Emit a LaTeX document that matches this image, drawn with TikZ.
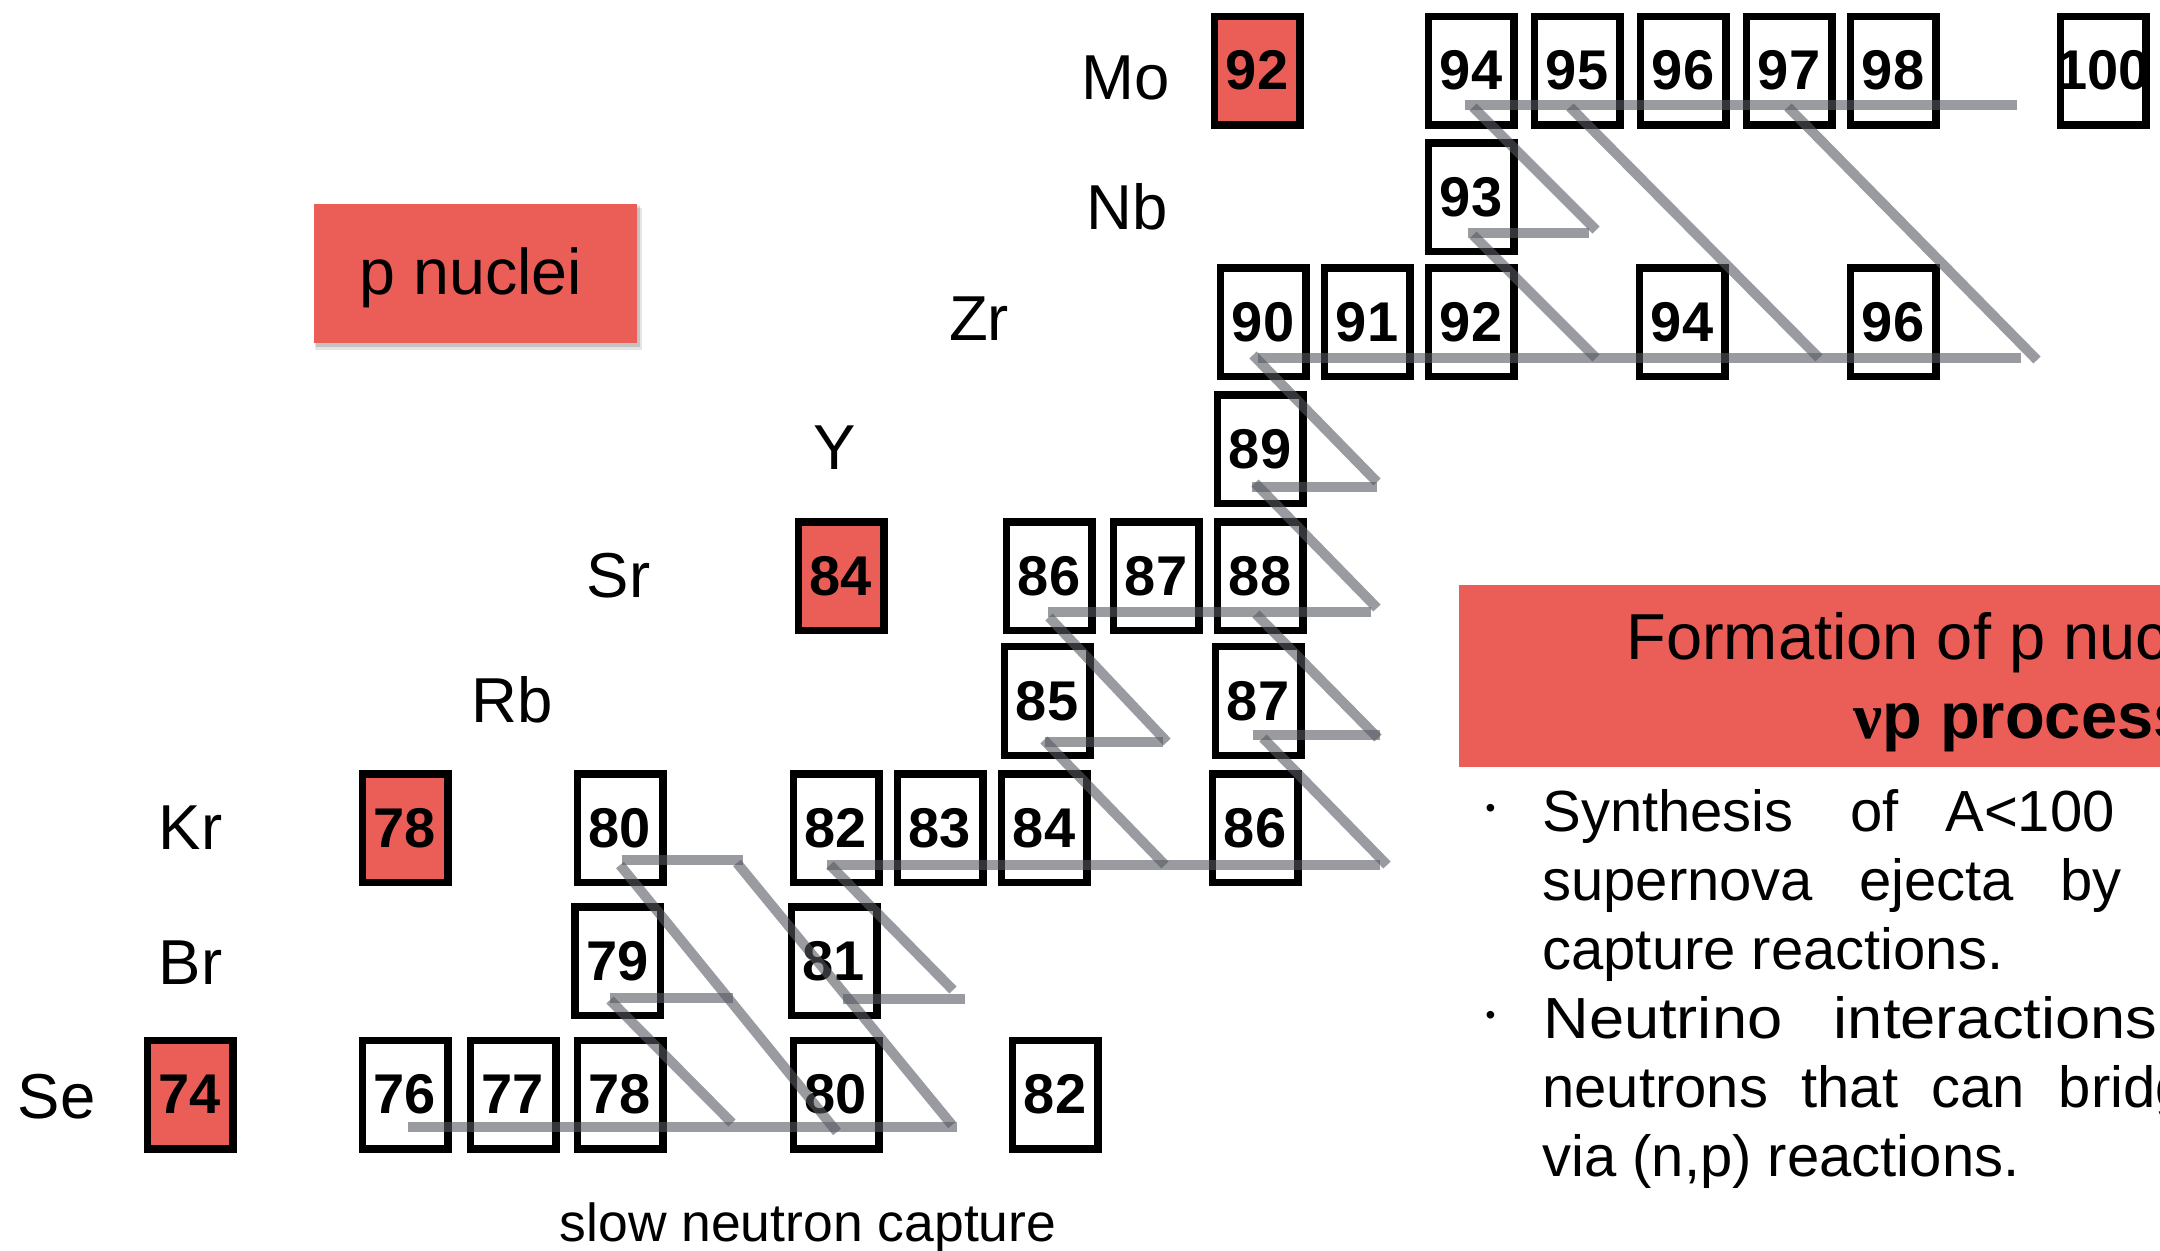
\documentclass[tikz,border=0pt]{standalone}
\usepackage{fontspec}
\usepackage{graphicx}
\setmainfont{Liberation Sans}
\newfontfamily\nufont{Liberation Serif}
\definecolor{pred}{RGB}{235,94,88}
\definecolor{sgray}{RGB}{85,89,96}
\newcommand\numfont{\fontsize{28pt}{30pt}\selectfont\bfseries}
\newcommand\elemfont{\fontsize{31.75pt}{36pt}\selectfont}
\newcommand\titlefont{\fontsize{32.5pt}{36pt}\selectfont}
\newcommand\bodyfont{\fontsize{29pt}{34pt}\selectfont}
\tikzset{
  nuc/.style={draw=black, line width=3.75pt, fill=white, minimum width=42.75pt,
    minimum height=54.25pt, inner sep=0pt, font=\numfont},
  pnuc/.style={nuc, fill=pred},
  elem/.style={anchor=base, inner sep=0pt, font=\elemfont},
  sline/.style={draw=sgray, opacity=0.6, line width=5pt},
  btxt/.style={anchor=base west, inner sep=0pt, font=\bodyfont},
  bdot/.style={inner sep=0pt, font=\fontsize{14pt}{14pt}\selectfont},
}
\newcommand\nucbox[5][nuc]{\node[#1] (#2) at (#3,#4) {\makebox[0pt]{#5}};}
\begin{document}
\begin{tikzpicture}[x=0.5pt,y=-0.5pt]
\useasboundingbox (0,0) rectangle (2160,1251);
\clip (0,0) rectangle (2160,1251);

% p nuclei legend
\fill[black, opacity=0.10] (315,208) rectangle (642,350);
\fill[black, opacity=0.15] (316,206) rectangle (640,347);
\node[fill=pred, minimum width=161.5pt, minimum height=69.5pt, inner sep=0pt] (pn) at (475.5,273.5) {};
\node[anchor=base, inner sep=0pt, font=\fontsize{32.3pt}{36pt}\selectfont] (pntext) at (471,295) {p nuclei};

% element labels
\node[elem] (lMo) at (1126,100) {Mo};
\node[elem] (lNb) at (1127,230) {Nb};
\node[elem] (lZr) at (979,341) {Zr};
\node[elem] (lY) at (835,470) {Y};
\node[elem] (lSr) at (618.5,598) {Sr};
\node[elem] (lRb) at (512,723) {Rb};
\node[elem] (lKr) at (190.7,849) {Kr};
\node[elem] (lBr) at (190.7,984) {Br};
\node[elem] (lSe) at (56.8,1118) {Se};

% Mo
\nucbox[pnuc]{Mo92}{1257}{70.7}{92}
\nucbox{Mo94}{1471}{70.7}{94}
\nucbox{Mo95}{1577}{70.7}{95}
\nucbox{Mo96}{1683}{70.7}{96}
\nucbox{Mo97}{1789}{70.7}{97}
\nucbox{Mo98}{1893}{70.7}{98}
\nucbox{Mo100}{2103}{70.7}{100}
% Nb
\nucbox{Nb93}{1471}{197.3}{93}
% Zr
\nucbox{Zr90}{1263}{322.5}{90}
\nucbox{Zr91}{1367}{322.5}{91}
\nucbox{Zr92}{1471}{322.5}{92}
\nucbox{Zr94}{1682}{322.5}{94}
\nucbox{Zr96}{1893}{322.5}{96}
% Y
\nucbox{Y89}{1260}{449.5}{89}
% Sr
\nucbox[pnuc]{Sr84}{841}{576.3}{84}
\nucbox{Sr86}{1049}{576.3}{86}
\nucbox{Sr87}{1156}{576.3}{87}
\nucbox{Sr88}{1260}{576.3}{88}
% Rb
\nucbox{Rb85}{1047}{701}{85}
\nucbox{Rb87}{1258}{701}{87}
% Kr
\nucbox[pnuc]{Kr78}{405}{828}{78}
\nucbox{Kr80}{620}{828}{80}
\nucbox{Kr82}{836}{828}{82}
\nucbox{Kr83}{940}{828}{83}
\nucbox{Kr84}{1044}{828}{84}
\nucbox{Kr86}{1255}{828}{86}
% Br
\nucbox{Br79}{617.5}{961.3}{79}
\nucbox{Br81}{834}{961.3}{81}
% Se
\nucbox[pnuc]{Se74}{190}{1094.7}{74}
\nucbox{Se76}{405}{1094.7}{76}
\nucbox{Se77}{513}{1094.7}{77}
\nucbox{Se78}{620}{1094.7}{78}
\nucbox{Se80}{836}{1094.7}{80}
\nucbox{Se82}{1055}{1094.7}{82}

% s-process path
\draw[sline] (1465,105) -- (2017,105);
\draw[sline] (1473,107) -- (1596,230);
\draw[sline] (1468,233) -- (1589,233);
\draw[sline] (1473,235) -- (1596,358);
\draw[sline] (1570,107) -- (1819,358);
\draw[sline] (1788,107) -- (2037,360);
\draw[sline] (1258,358) -- (2021,358);
\draw[sline] (1253,355) -- (1377,482);
\draw[sline] (1252,487) -- (1377,487);
\draw[sline] (1255,483) -- (1377,608);
\draw[sline] (1048,612) -- (1371,612);
\draw[sline] (1256,614) -- (1378,738);
\draw[sline] (1253,735) -- (1380,735);
\draw[sline] (1263,738) -- (1387,865);
\draw[sline] (1049,617) -- (1167,742);
\draw[sline] (1045,742) -- (1163,742);
\draw[sline] (1044,740) -- (1165,865);
\draw[sline] (827,865) -- (1380,865);
\draw[sline] (830,865) -- (953,990);
\draw[sline] (843,999) -- (965,999);
\draw[sline] (622,860) -- (743,860);
\draw[sline] (737,863) -- (952,1125);
\draw[sline] (620,865) -- (837,1132);
\draw[sline] (610,998) -- (733,998);
\draw[sline] (610,1000) -- (732,1123);
\draw[sline] (408,1127) -- (957,1127);

\node[anchor=base, inner sep=0pt, font=\fontsize{26.75pt}{30pt}\selectfont] (snc) at (808,1241) {slow neutron capture};

% title box
\node[fill=pred, anchor=north west, minimum width=360pt, minimum height=90.85pt, inner sep=0pt] (titlebox) at (1458.5,585) {};
\node[anchor=base west, inner sep=0pt, font=\titlefont] (t1) at (1626,660) {Formation of p nuclei};
\node[anchor=base west, inner sep=0pt, font=\titlefont\bfseries] (t2) at (1853,739) {{\nufont ν}p process};

% bullets
\node[bdot] (b1) at (1490.5,811) {•};
\node[bdot] (b2) at (1490.5,1018) {•};
\node[btxt] (l1a) at (1542,831) {Synthesis};
\node[btxt] (l1b) at (1850,831) {of};
\node[btxt] (l1c) at (1945,831) {A<100};
\node[btxt] (l2a) at (1542,900) {supernova};
\node[btxt] (l2b) at (1858.7,900) {ejecta};
\node[btxt] (l2c) at (2059.8,900) {by};
\node[btxt] (l3) at (1542,969) {capture reactions.};
\node[btxt] (l4a) at (1543,1038) {\scalebox{1.09}[1]{Neutrino}};
\node[btxt] (l4b) at (1833.5,1038) {\scalebox{1.09}[1]{interactions}};
\node[btxt] (l5a) at (1542,1107) {neutrons};
\node[btxt] (l5b) at (1801,1107) {that};
\node[btxt] (l5c) at (1931,1107) {can};
\node[btxt] (l5d) at (2058.5,1107) {bridge};
\node[btxt] (l6) at (1542,1176) {via (n,p) reactions.};
\end{tikzpicture}
\end{document}
